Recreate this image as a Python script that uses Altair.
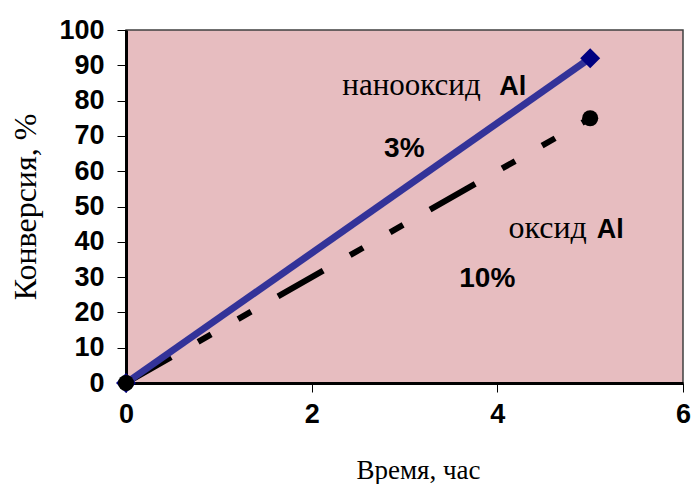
import altair as alt
import pandas as pd

# Data
time_h = [0, 5]
nano_conv = [0, 92]    # нанооксид Al 3%
oxide_conv = [0, 75]   # оксид Al 10%
x_ticks = [0, 2, 4, 6]
y_ticks = [0, 10, 20, 30, 40, 50, 60, 70, 80, 90, 100]

nano_df = pd.DataFrame({"t": time_h, "c": nano_conv})
oxide_df = pd.DataFrame({"t": time_h, "c": oxide_conv})

SANS = "Liberation Sans"
SERIF = "Liberation Serif"

x_scale = alt.Scale(domain=[0, 6], nice=False, zero=False)
y_scale = alt.Scale(domain=[0, 100], nice=False)

x_axis = alt.Axis(
    title="Время, час",
    values=x_ticks,
    format="d",
    grid=False,
    tickSize=9,
    tickColor="black",
    tickWidth=1,
    domainColor="black",
    domainWidth=3,
    labelFont=SANS,
    labelFontWeight="bold",
    labelFontSize=27,
    labelColor="black",
    labelPadding=9,
    labelFlush=False,
    labelOverlap=False,
    titleFont=SERIF,
    titleFontSize=27,
    titleFontWeight="normal",
    titleColor="black",
    titleX=292,
    titleAlign="center",
    titleY=95,
    titleBaseline="alphabetic",
)
y_axis = alt.Axis(
    title="Конверсия, %",
    values=y_ticks,
    format="d",
    grid=False,
    tickSize=9,
    tickColor="black",
    tickWidth=1,
    domainColor="black",
    domainWidth=3,
    labelFont=SANS,
    labelFontWeight="bold",
    labelFontSize=27,
    labelColor="black",
    labelPadding=13,
    labelOverlap=False,
    labelFlush=False,
    titleFont=SERIF,
    titleFontSize=32,
    titleFontWeight="normal",
    titleColor="black",
    titleX=-91,
    titleBaseline="alphabetic",
)

x_enc = alt.X("t:Q", scale=x_scale, axis=x_axis)
y_enc = alt.Y("c:Q", scale=y_scale, axis=y_axis)

oxide_line = alt.Chart(oxide_df).mark_line(
    color="black", strokeWidth=6, strokeDash=[52, 31, 15, 31, 15, 31], strokeCap="butt"
).encode(x=x_enc, y=y_enc)
nano_line = alt.Chart(nano_df).mark_line(
    color="#333399", strokeWidth=7, strokeCap="butt"
).encode(x=x_enc, y=y_enc)
nano_pts = alt.Chart(nano_df).mark_point(
    shape="diamond", filled=True, size=400, color="#000080", opacity=1
).encode(x=x_enc, y=y_enc)
oxide_pts = alt.Chart(oxide_df).mark_point(
    shape="circle", filled=True, size=260, color="black", opacity=1
).encode(x=x_enc, y=y_enc)


def label(txt, xv, yv, font, weight, size):
    return alt.Chart().mark_text(
        text=txt, font=font, fontSize=size, fontWeight=weight, color="black",
        align="left", baseline="alphabetic"
    ).encode(
        x=alt.X(datum=xv, type="quantitative", scale=x_scale, axis=x_axis),
        y=alt.Y(datum=yv, type="quantitative", scale=y_scale, axis=y_axis),
    )


texts = [
    label("нанооксид", 2.33, 81.6, SERIF, "normal", 31),
    label("Al", 4.02, 81.6, SANS, "bold", 27),
    label("3%", 2.78, 64.1, SANS, "bold", 28),
    label("оксид", 4.12, 41.1, SERIF, "normal", 32),
    label("Al", 5.07, 41.1, SANS, "bold", 27),
    label("10%", 3.59, 27.2, SANS, "bold", 28),
]

chart = alt.layer(oxide_line, nano_line, nano_pts, oxide_pts, *texts).properties(
    width=557,
    height=353,
    autosize=alt.AutoSizeParams(type="none"),
    padding={"left": 118, "top": 22, "right": 8, "bottom": 101},
).configure(
    background="white"
).configure_view(
    fill="#e7bdc0", stroke="#404040", strokeWidth=1.5
)

chart.save("out.html", embed_options={"renderer": "svg", "actions": False})
